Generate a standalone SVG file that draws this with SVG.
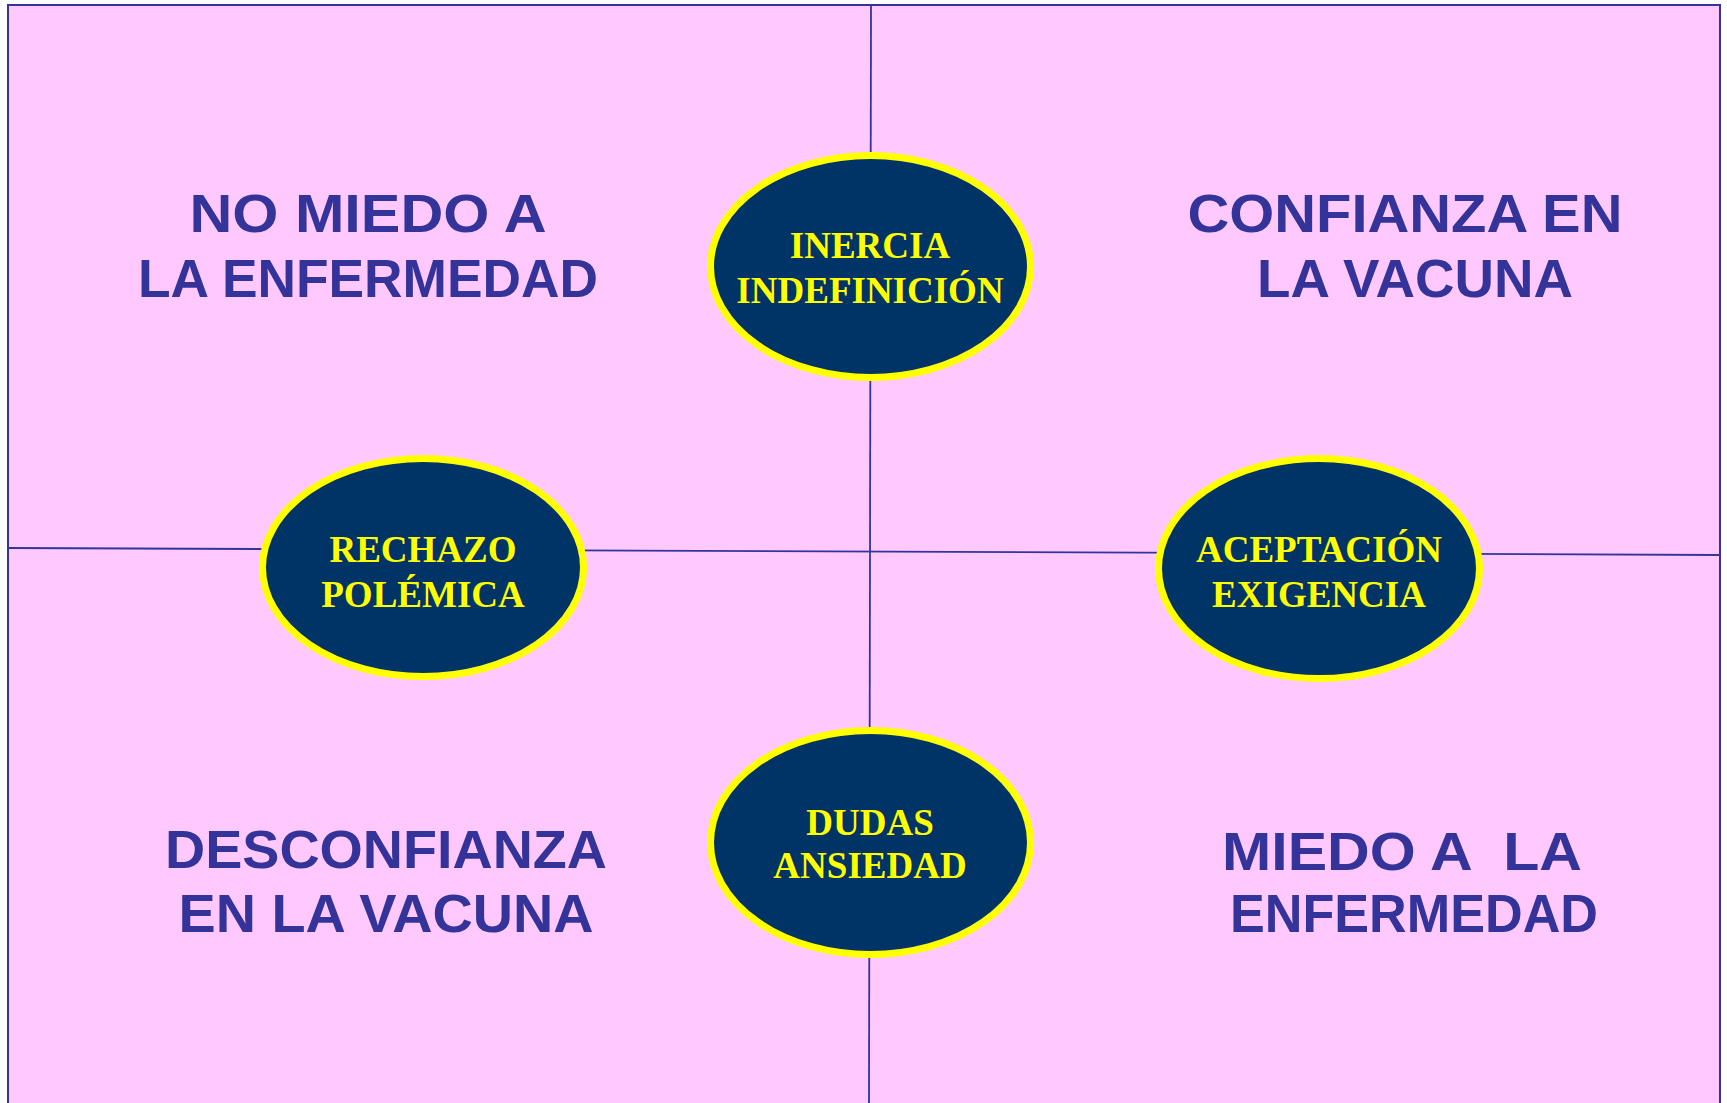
<svg xmlns="http://www.w3.org/2000/svg" width="1727" height="1103" viewBox="0 0 1727 1103">
<style>
.bg{fill:#FFC9FF;stroke:#333399;stroke-width:2}
.ln{stroke:#333399;stroke-width:1.8;fill:none}
.ov{fill:#003366;stroke:#FFFF00;stroke-width:7}
.ot{font-family:"Liberation Serif","Times New Roman",serif;font-weight:bold;font-size:37px;fill:#FFFF00;text-anchor:middle}
.ct{font-family:"Comic Sans MS","Liberation Sans",Arial,sans-serif;font-weight:bold;font-size:54px;fill:#333399;text-anchor:middle;white-space:pre}
</style>
<rect class="bg" x="8" y="5" width="1712" height="1110"/>
<g id="connectors">
<line class="ln" x1="871" y1="5" x2="869" y2="1103"/>
<line class="ln" x1="8" y1="548" x2="1720" y2="555"/>
</g>
<g id="q-tl"><text class="ct"><tspan x="368" y="232" textLength="357" lengthAdjust="spacingAndGlyphs">NO MIEDO A</tspan><tspan x="368" y="297" textLength="460" lengthAdjust="spacingAndGlyphs">LA ENFERMEDAD</tspan></text></g>
<g id="q-tr"><text class="ct"><tspan x="1405" y="232" textLength="435" lengthAdjust="spacingAndGlyphs">CONFIANZA EN</tspan><tspan x="1415" y="297" textLength="316" lengthAdjust="spacingAndGlyphs">LA VACUNA</tspan></text></g>
<g id="q-bl"><text class="ct"><tspan x="386" y="868" textLength="442" lengthAdjust="spacingAndGlyphs">DESCONFIANZA</tspan><tspan x="386" y="932" textLength="415" lengthAdjust="spacingAndGlyphs">EN LA VACUNA</tspan></text></g>
<g id="q-br"><text class="ct" xml:space="preserve"><tspan x="1402" y="870" textLength="360" lengthAdjust="spacingAndGlyphs">MIEDO A  LA</tspan><tspan x="1414" y="932" textLength="368" lengthAdjust="spacingAndGlyphs">ENFERMEDAD</tspan></text></g>
<g id="n-top"><ellipse class="ov" cx="870.5" cy="266.5" rx="160" ry="111"/><text class="ot"><tspan x="870" y="258">INERCIA</tspan><tspan x="870" y="303">INDEFINICIÓN</tspan></text></g>
<g id="n-left"><ellipse class="ov" cx="423" cy="567.5" rx="160.5" ry="109"/><text class="ot"><tspan x="423" y="562">RECHAZO</tspan><tspan x="423" y="607">POLÉMICA</tspan></text></g>
<g id="n-right"><ellipse class="ov" cx="1319" cy="568.5" rx="160.5" ry="110"/><text class="ot"><tspan x="1319" y="562">ACEPTACIÓN</tspan><tspan x="1319" y="607">EXIGENCIA</tspan></text></g>
<g id="n-bottom"><ellipse class="ov" cx="870.5" cy="842.5" rx="160" ry="112"/><text class="ot"><tspan x="870" y="835">DUDAS</tspan><tspan x="870" y="878">ANSIEDAD</tspan></text></g>
</svg>
